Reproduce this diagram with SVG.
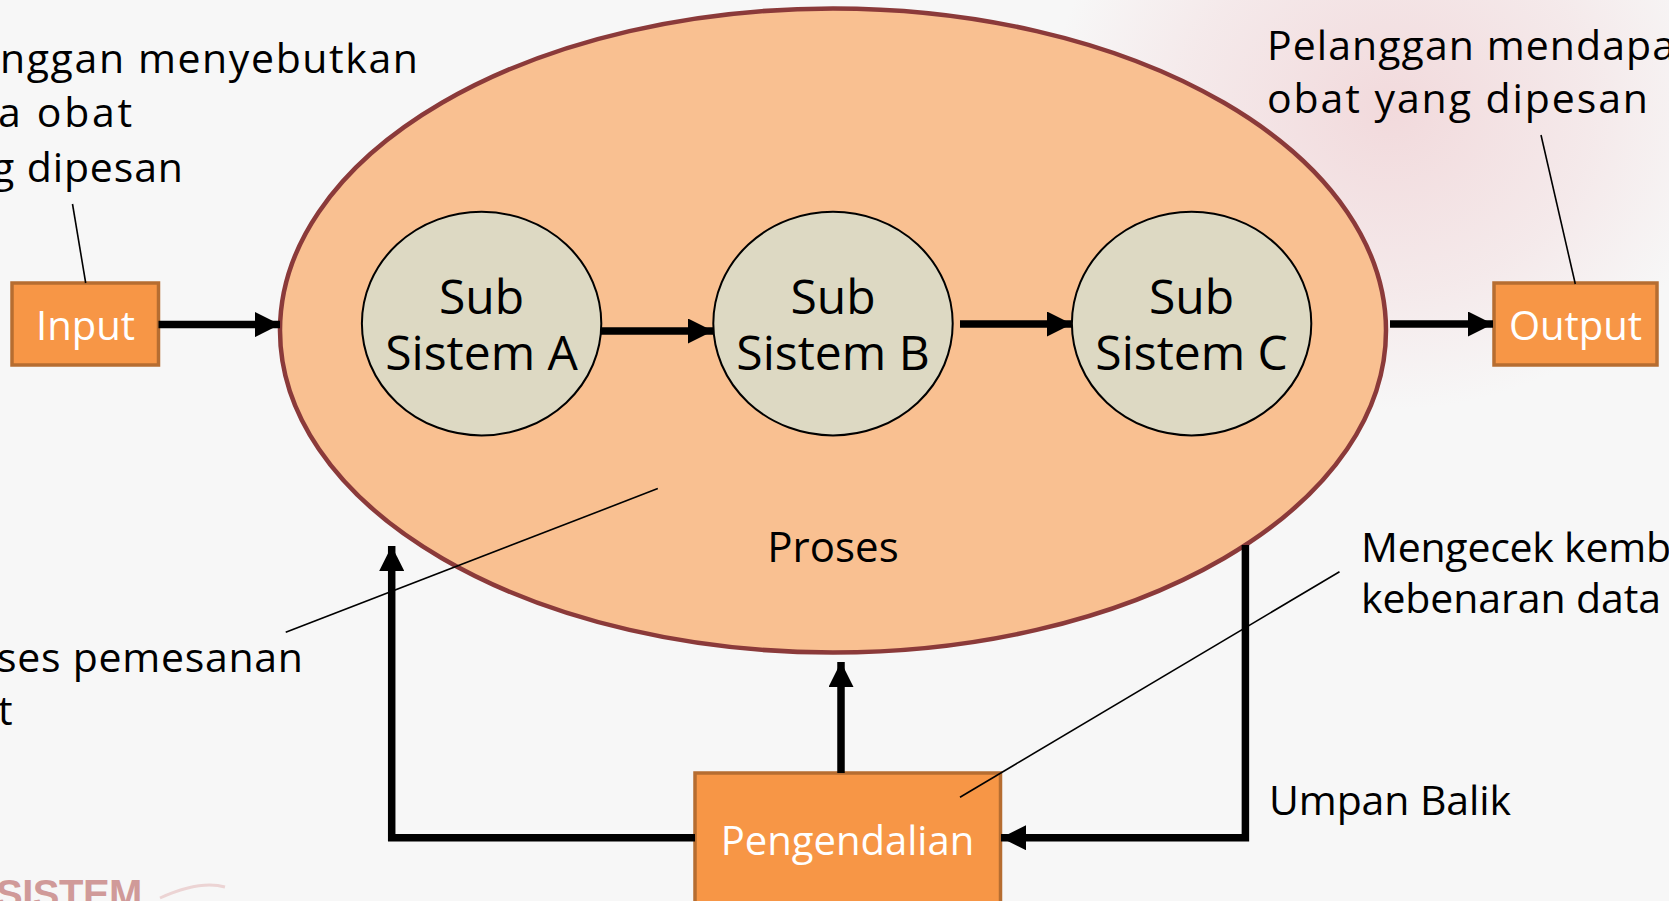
<svg xmlns="http://www.w3.org/2000/svg" width="1669" height="901" viewBox="0 0 1669 901">
<style>
.bg{fill:#f7f7f7}
.proc{fill:#f9c091;stroke:#8b3a3a;stroke-width:4.5}
.sub{fill:#ddd9c3;stroke:#000;stroke-width:2}
.box{fill:#f79646;stroke:#b66d31;stroke-width:3.5}
.t{font-family:"Open Sans","Noto Sans","DejaVu Sans",sans-serif;fill:#000}
.st{font-size:48px;text-anchor:middle}
.bt{font-size:40px;text-anchor:middle;fill:#fff}
.lb{font-size:41px}
.conn{fill:none;stroke:#000;stroke-width:7.5}
.call{fill:none;stroke:#000;stroke-width:1.6}
</style>
<defs>
<marker id="ah" viewBox="0 0 24 24" markerWidth="25" markerHeight="25" refX="24" refY="12" orient="auto" markerUnits="userSpaceOnUse">
<path d="M0,0 L24,12 L0,24 z" fill="#000"/>
</marker>
<radialGradient id="pink" cx="0.5" cy="0.5" r="0.5">
<stop offset="0" stop-color="#f0d0d3" stop-opacity="0.75"/>
<stop offset="0.6" stop-color="#f0d0d3" stop-opacity="0.35"/>
<stop offset="1" stop-color="#f0d0d3" stop-opacity="0"/>
</radialGradient>
</defs>
<rect class="bg" x="0" y="0" width="1669" height="901"/>
<ellipse cx="1390" cy="110" rx="340" ry="300" fill="url(#pink)"/>
<text x="-4" y="908" font-family="'Liberation Sans',Arial,sans-serif" font-weight="bold" font-size="40" fill="#d09a99" letter-spacing="-0.5">SISTEM</text>
<path d="M160,898 Q200,880 225,887" fill="none" stroke="#ecd4d4" stroke-width="3"/>

<g id="proses">
<ellipse class="proc" cx="833" cy="330.5" rx="553" ry="322"/>
<text class="t" x="833" y="562" font-size="42" text-anchor="middle">Proses</text>
</g>
<g id="subA">
<ellipse class="sub" cx="481.6" cy="323.6" rx="119.7" ry="111.8"/>
<text class="t st" x="481.6" y="314">Sub</text>
<text class="t st" x="481.6" y="370">Sistem A</text>
</g>
<g id="subB">
<ellipse class="sub" cx="833" cy="323.6" rx="119.7" ry="111.8"/>
<text class="t st" x="833" y="314">Sub</text>
<text class="t st" x="833" y="370">Sistem B</text>
</g>
<g id="subC">
<ellipse class="sub" cx="1191.6" cy="323.6" rx="119.7" ry="111.8"/>
<text class="t st" x="1191.6" y="314">Sub</text>
<text class="t st" x="1191.6" y="370">Sistem C</text>
</g>
<g id="input">
<rect class="box" x="12" y="283" width="146.5" height="82"/>
<text class="t bt" x="85.5" y="340">Input</text>
</g>
<g id="output">
<rect class="box" x="1494" y="283" width="163" height="82"/>
<text class="t bt" x="1575.5" y="340">Output</text>
</g>
<g id="pengendalian">
<rect class="box" x="695" y="773" width="305.5" height="140"/>
<text class="t bt" x="847.5" y="855">Pengendalian</text>
</g>

<g id="connectors">
<path class="conn" d="M158.5,324.6 H280" marker-end="url(#ah)"/>
<path class="conn" d="M601,331 H713" marker-end="url(#ah)"/>
<path class="conn" d="M960,324 H1072" marker-end="url(#ah)"/>
<path class="conn" d="M1390,324 H1493" marker-end="url(#ah)"/>
<path class="conn" d="M841,773 V662" marker-end="url(#ah)"/>
<path class="conn" d="M695,837.7 H391.7 V546" marker-end="url(#ah)"/>
<path class="conn" d="M1245.4,545 V837.7 H1001" marker-end="url(#ah)"/>
</g>

<g id="callouts">
<line class="call" x1="72.5" y1="204" x2="85.7" y2="283"/>
<line class="call" x1="1541" y1="135" x2="1575.3" y2="284"/>
<line class="call" x1="285.7" y1="632.3" x2="657.8" y2="488.6"/>
<line class="call" x1="1339.5" y1="571.7" x2="960" y2="797.2"/>
</g>

<g id="labels">
<text class="t lb" x="0" y="73" textLength="418" lengthAdjust="spacing">nggan menyebutkan</text>
<text class="t lb" x="-2" y="127" textLength="134" lengthAdjust="spacing">a obat</text>
<text class="t lb" x="-8" y="182" textLength="191" lengthAdjust="spacing">g dipesan</text>
<text class="t lb" x="-3" y="672" textLength="306" lengthAdjust="spacing">ses pemesanan</text>
<text class="t lb" x="-2" y="725">t</text>
<text class="t lb" x="1267" y="60" textLength="408" lengthAdjust="spacing">Pelanggan mendapa</text>
<text class="t lb" x="1267" y="113" textLength="381" lengthAdjust="spacing">obat yang dipesan</text>
<text class="t lb" x="1361" y="562" textLength="310" lengthAdjust="spacing">Mengecek kemb</text>
<text class="t lb" x="1361" y="613" textLength="300" lengthAdjust="spacing">kebenaran data</text>
<text class="t lb" x="1269" y="815" textLength="242" lengthAdjust="spacing">Umpan Balik</text>
</g>
</svg>
